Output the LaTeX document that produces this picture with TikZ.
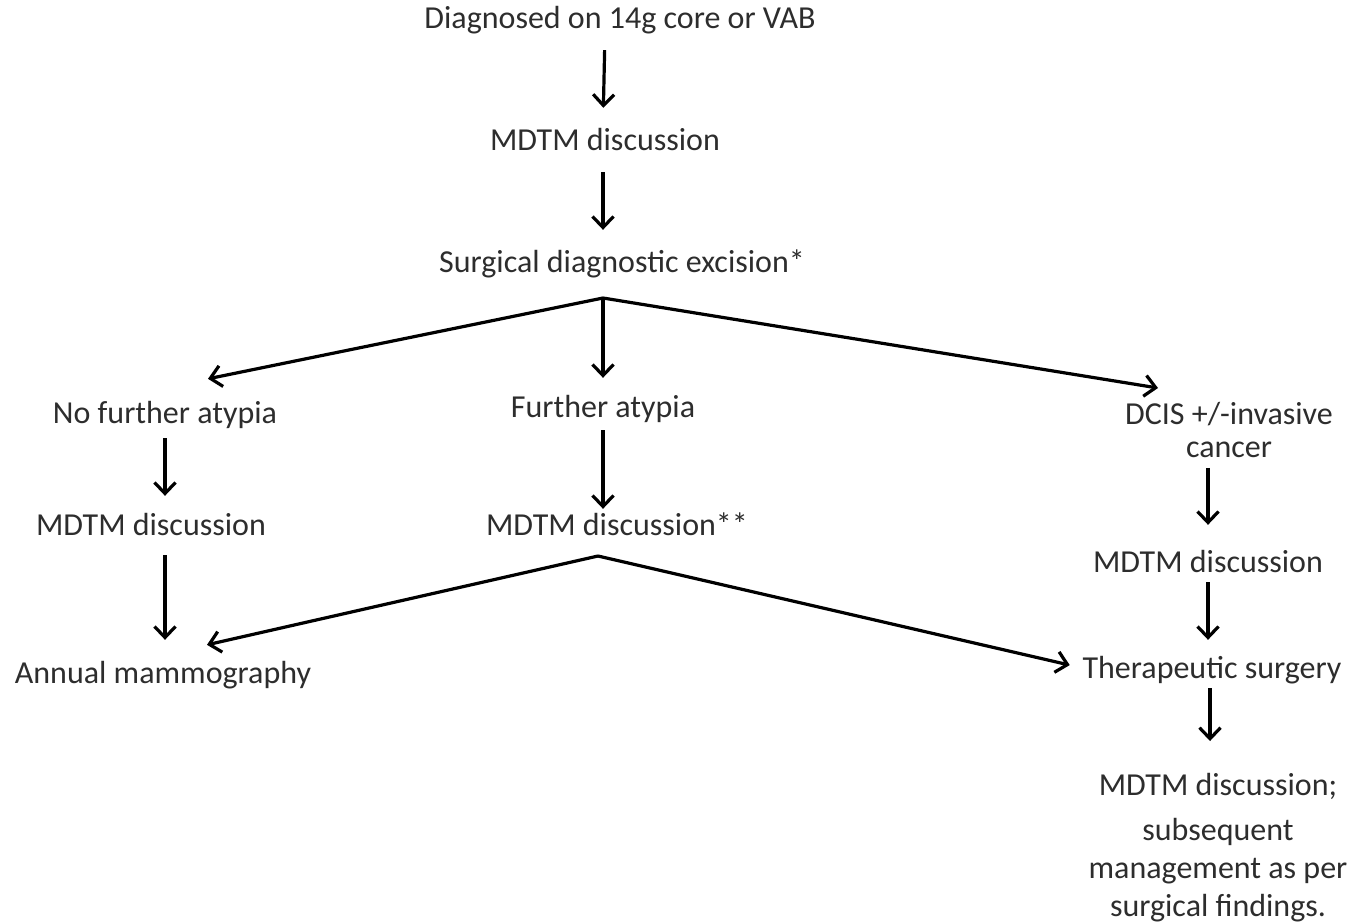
\documentclass[tikz,border=0pt]{standalone}
\usepackage{fontspec}
\setmainfont{Carlito}
\usepackage{xcolor}
\usepackage{tikz}
\usetikzlibrary{arrows.meta}
\definecolor{textgray}{RGB}{45,45,45}

\begin{document}
\begin{tikzpicture}[
    x=1pt, y=-1pt,
    % Node styles
    box/.style={inner sep=0pt, text=textgray, font=\fontsize{32}{33}\selectfont, text height=25pt, text depth=5pt},
    multibox/.style={inner sep=0pt, text=textgray, align=center, anchor=north},
    % Edge styles
    edge/.style={draw=black, line width=3.2pt, -{Straight Barb[length=11pt, width=21pt]}}
]
\useasboundingbox (0,0) rectangle (1356,922);

% Level 0 - Start
\node[box] (diag) at (620,18) {Diagnosed on 14g core or VAB};
\node[box] (mdtm1) at (605,140) {MDTM discussion};
\node[box] (surg) at (622,262) {Surgical diagnostic excision*};
\coordinate (split1) at (603,298);

% Level 1 - Three outcomes
\node[box] (nofurther) at (165,413) {No further atypia};
\node[box] (further) at (603,407) {Further atypia};
\node[multibox, font=\fontsize{32}{33}\selectfont] (dcis) at (1229,402) {DCIS +/-invasive\\cancer};

% Level 2 - MDTM discussions
\node[box] (mdtm2) at (151,525) {MDTM discussion};
\node[box] (mdtm3) at (617,525) {MDTM discussion**};
\node[box] (mdtm4) at (1208,562) {MDTM discussion};
\coordinate (split2) at (598,556);

% Level 3 - Follow up
\node[box] (annual) at (163,673) {Annual mammography};
\node[box] (thera) at (1212,668) {Therapeutic surgery};

% Level 4 - Final
\node[multibox, font=\fontsize{32}{38}\selectfont] (final) at (1218,773)
    {MDTM discussion;\\[7pt]subsequent\\management as per\\surgical findings.};

% Draw all edges
\draw[edge, shorten <=17pt, shorten >=17pt] (diag.south -| mdtm1) -- (mdtm1.north -| 603,0);
\draw[edge, shorten <=17pt, shorten >=17pt] (mdtm1.south -| 603,0) -- (surg.north -| 603,0);

\draw[edge] (split1) -- ([xshift=43pt, yshift=19pt]nofurther.north);
\draw[edge, shorten >=14pt] (split1) -- (further.north);
\draw[edge] (split1) -- ([xshift=-71pt, yshift=14pt]dcis.north);

\draw[edge, shorten <=10pt, shorten >=14pt] (nofurther.south) -- (nofurther.south |- mdtm2.north);
\draw[edge, shorten <=8pt, shorten >=1pt] (further.south) -- (further.south |- mdtm3.north);
\draw[edge, shorten <=10pt, shorten >=22pt] (dcis.south -| mdtm4) -- (mdtm4.north);

\draw[edge, shorten <=15pt, shorten >=18pt] (nofurther.south |- mdtm2.south) -- (nofurther.south |- annual.north);
\draw[edge] (split2) -- ([xshift=44pt, yshift=13pt]annual.north);
\draw[edge, shorten >=13pt] (split2) -- (thera.west);

\draw[edge, shorten <=5pt, shorten >=13pt] (mdtm4.south) -- (mdtm4.south |- thera.north);
\draw[edge, shorten <=5pt, shorten >=32pt] (thera.south -| 1210,0) -- (final.north -| 1210,0);

\end{tikzpicture}
\end{document}
